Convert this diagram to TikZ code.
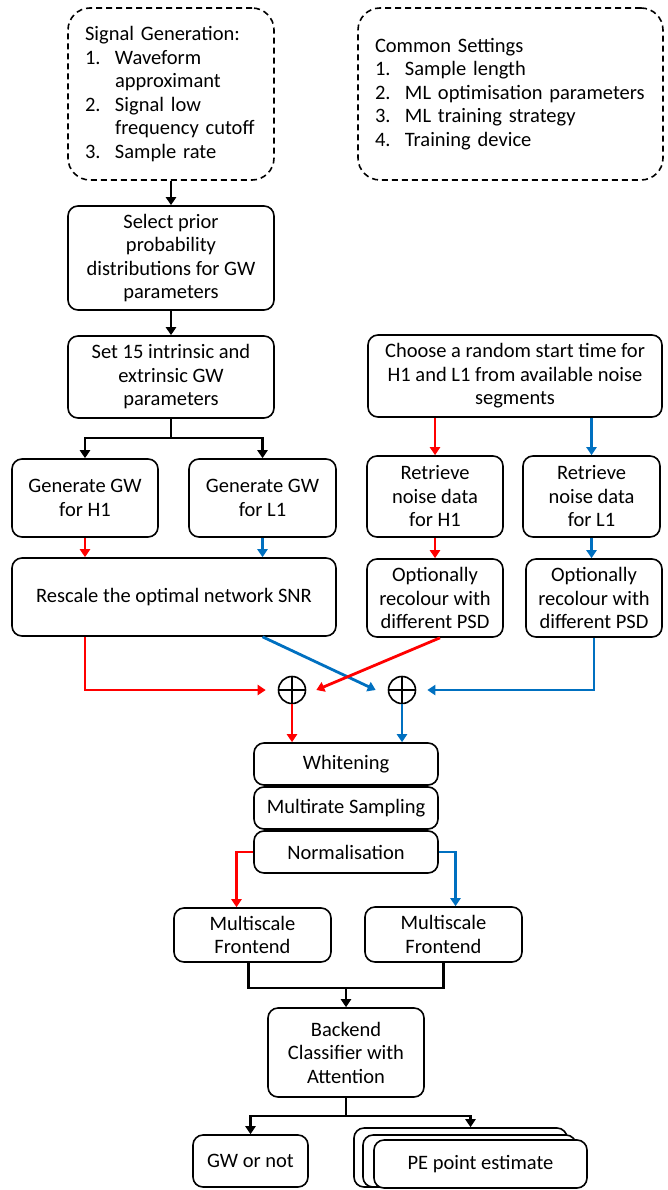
\documentclass[tikz,border=0pt]{standalone}
\usepackage{fontspec}
\setmainfont{Carlito}
\usetikzlibrary{arrows.meta,calc}
\definecolor{myred}{RGB}{255,0,0}
\definecolor{myblue}{RGB}{0,112,192}
\newcommand\fs{\fontsize{20.5}{23.5}\selectfont}
\newcommand\itm[1]{\makebox[30pt][l]{#1}}
\begin{document}
\begin{tikzpicture}[x=1pt,y=-1pt,
 box/.style={draw,fill=white,rounded corners=10pt,line width=1.6pt,inner sep=0pt,align=center,font=\fs},
 dbox/.style={draw,rounded corners=22pt,line width=1.6pt,dash pattern=on 6pt off 4pt,inner xsep=17pt,inner ysep=0pt,align=left,font=\fs},
 con/.style={line width=2.8pt},
 arr/.style={con,-{Triangle[length=8pt,width=10pt]}},
 xo/.style={draw,circle,line width=1.6pt,minimum size=27pt,inner sep=0pt}]
\useasboundingbox (0,0) rectangle (667,1190);

\node[dbox,minimum width=206pt,minimum height=172pt,text width=172pt] (sig) at (171,94)
 {Signal Generation:\\\itm{1.}Waveform\\\itm{}approximant\\\itm{2.}Signal low\\\itm{}frequency cutoff\\\itm{3.}Sample rate};
\node[dbox,minimum width=305pt,minimum height=172pt,text width=271pt] (com) at (510.5,94)
 {Common Settings\\\itm{1.}Sample length\\\itm{2.}ML optimisation parameters\\\itm{3.}ML training strategy\\\itm{4.}Training device};

\node[box,minimum width=206pt,minimum height=104pt] (sp) at (171,258) {Select prior\\probability\\distributions for GW\\parameters};
\node[box,minimum width=206pt,minimum height=82pt] (s15) at (171,377) {Set 15 intrinsic and\\extrinsic GW\\parameters};
\node[box,minimum width=294pt,minimum height=82pt] (ch) at (515,376) {Choose a random start time for\\H1 and L1 from available noise\\segments};
\node[box,minimum width=146pt,minimum height=78pt] (gh1) at (85,498) {Generate GW\\for H1};
\node[box,minimum width=147pt,minimum height=78pt] (gl1) at (262.5,498) {Generate GW\\for L1};
\node[box,minimum width=136pt,minimum height=81pt] (rh1) at (435,496.5) {Retrieve\\noise data\\for H1};
\node[box,minimum width=137pt,minimum height=81pt] (rl1) at (591.5,496.5) {Retrieve\\noise data\\for L1};
\node[box,minimum width=324pt,minimum height=78pt] (resc) at (174,597) {Rescale the optimal network SNR};
\node[box,minimum width=136pt,minimum height=78pt] (oh1) at (435,598) {Optionally\\recolour with\\different PSD};
\node[box,minimum width=136pt,minimum height=78pt] (ol1) at (594,598) {Optionally\\recolour with\\different PSD};

\node[xo] (c1) at (292,690) {};
\node[xo] (c2) at (402,690) {};
\draw[line width=1.4pt] (c1.north)--(c1.south) (c1.west)--(c1.east);
\draw[line width=1.4pt] (c2.north)--(c2.south) (c2.west)--(c2.east);

\node[box,minimum width=184pt,minimum height=42pt] (wh) at (346,764) {Whitening};
\node[box,minimum width=184pt,minimum height=42pt] (mr) at (346,808) {Multirate Sampling};
\node[box,minimum width=184pt,minimum height=42pt] (nm) at (346,852) {Normalisation};
\node[box,minimum width=157pt,minimum height=54pt] (ms1) at (252.5,935) {Multiscale\\Frontend};
\node[box,minimum width=157pt,minimum height=55pt] (ms2) at (443.5,934.5) {Multiscale\\Frontend};
\node[box,minimum width=156pt,minimum height=89pt] (be) at (346,1052.5) {Backend\\Classifier with\\Attention};
\node[box,minimum width=115pt,minimum height=52pt] (gw) at (250.5,1161) {GW or not};
\node[box,minimum width=213pt,minimum height=59pt] (pe1) at (460.5,1157.5) {};
\node[box,minimum width=213pt,minimum height=52pt] (pe2) at (469.5,1161) {};
\node[box,minimum width=213pt,minimum height=48pt] (pe3) at (480.5,1164) {PE point estimate};

% black connectors
\draw[arr] (sig.south) -- (sp.north);
\draw[arr] (sp.south) -- (s15.north);
\coordinate (j2) at (171,438);
\draw[con] (s15.south) -- (j2);
\draw[arr] (j2) -| (gh1.north);
\draw[arr] (j2) -| (gl1.north);

% generation to rescale
\draw[arr,myred] (gh1.south) -- (gh1.south |- resc.north);
\draw[arr,myblue] (gl1.south) -- (gl1.south |- resc.north);

% noise branch
\draw[arr,myred] (ch.south -| rh1.north) -- (rh1.north);
\draw[arr,myblue] (ch.south -| rl1.north) -- (rl1.north);
\draw[arr,myred] (rh1.south) -- (oh1.north);
\draw[arr,myblue] (rl1.south) -- (rl1.south |- ol1.north);

% into sums
\draw[arr,myblue] (resc.south -| gl1.south) -- ([xshift=-12pt]c2.west);
\draw[arr,myblue] (ol1.south) |- ([xshift=11pt]c2.east);
\draw[arr,myred] (resc.south -| gh1.south) |- ([xshift=-12pt]c1.west);
\draw[arr,myred] ([xshift=5pt]oh1.south) -- ([xshift=10pt]c1.east);

% sums to whitening
\draw[arr,myred] (c1.south) -- (c1.south |- wh.north);
\draw[arr,myblue] (c2.south) -- (c2.south |- wh.north);

% normalisation to frontends
\draw[arr,myred] (nm.west) -| ([xshift=-16pt]ms1.north);
\draw[arr,myblue] (nm.east) -| ([xshift=12pt]ms2.north);

% merge
\coordinate (j1) at (346,988);
\draw[con] ([xshift=-4pt]ms1.south) |- (j1) -| (ms2.south);
\draw[arr] (j1) -- (be.north);

% output fork
\coordinate (j3) at (346,1116);
\draw[con] (be.south) -- (j3);
\draw[arr] (j3) -| (gw.north);
\draw[arr] (j3) -| ([xshift=10pt]pe1.north);
\end{tikzpicture}
\end{document}
